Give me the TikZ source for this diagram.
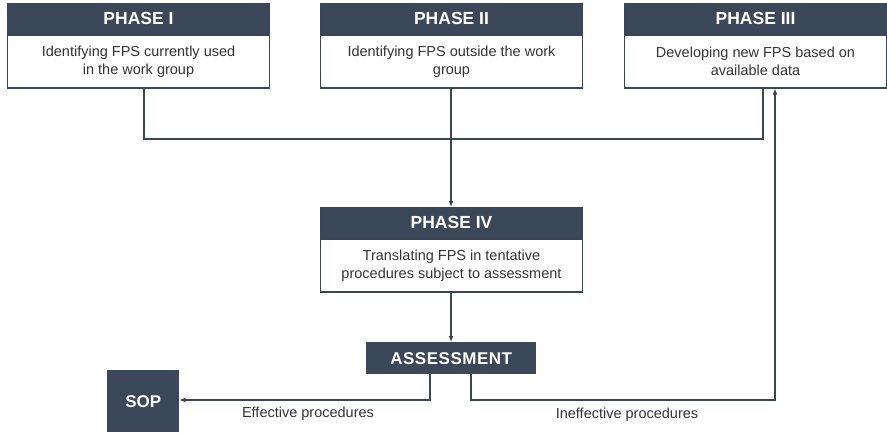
\documentclass[tikz,border=0pt]{standalone}
\usepackage{fontspec}
\setmainfont{Liberation Sans}
\usetikzlibrary{arrows.meta}
\definecolor{hdrcol}{HTML}{3B4859}
\definecolor{linecol}{HTML}{3A4556}
\definecolor{txtcol}{HTML}{333333}
\tikzset{
  hdr/.style={fill=hdrcol, draw=linecol, line width=1pt, text=white, font=\fontsize{17.5}{20}\selectfont\bfseries, minimum width=262pt, minimum height=30pt, inner sep=0pt, anchor=north west},
  bodybox/.style={fill=white, draw=linecol, line width=1.5pt, text=txtcol, font=\fontsize{14.5}{18}\selectfont, align=center, minimum width=262pt, minimum height=53pt, inner sep=0pt, anchor=north},
  conn/.style={draw=linecol, line width=2pt},
  arr/.style={conn, -{Latex[length=6pt,width=5pt]}},
  lbl/.style={text=txtcol, font=\fontsize{14.5}{17}\selectfont, inner sep=0pt},
  darkbox/.style={fill=hdrcol, text=white, font=\fontsize{17}{20}\selectfont\bfseries, inner sep=0pt}
}
\begin{document}
\begin{tikzpicture}[x=1pt, y=-1pt]
\useasboundingbox[fill=white] (0,0) rectangle (887,432);
% Phase I
\node[hdr] (h1) at (7,3) {PHASE I};
\node[bodybox] (b1) at (h1.south) {Identifying FPS currently used\\in the work group};
% Phase II
\node[hdr] (h2) at (320,3) {PHASE II};
\node[bodybox] (b2) at (h2.south) {Identifying FPS outside the work\\group};
% Phase III
\node[hdr] (h3) at (624,3) {PHASE III};
\node[bodybox] (b3) at (h3.south) {Developing new FPS based on\\available data};
% Phase IV
\node[hdr] (h4) at (320,207) {PHASE IV};
\node[bodybox] (b4) at (h4.south) {Translating FPS in tentative\\procedures subject to assessment};
% Assessment
\node[darkbox, minimum width=170pt, minimum height=32pt, anchor=north west] (as) at (366,342) {\addfontfeature{LetterSpace=3}ASSESSMENT};
% SOP
\node[darkbox, minimum width=72pt, minimum height=62pt, anchor=north west] (sop) at (107,370) {SOP};
% connectors
\coordinate (L1) at (144,139);
\coordinate (L3) at (763,139);
\draw[conn] (b1.south -| L1) -- (L1) -- (L3) -- (b3.south -| L3);
\draw[arr] (b2.south -| 451,0) -- (h4.north -| 451,0);
\draw[arr] (b4.south -| 451,0) -- (as.north -| 451,0);
\coordinate (e1) at (430,400);
\draw[arr] (as.south -| e1) -- (e1) -- (sop.east |- e1);
\coordinate (i1) at (471,400);
\coordinate (i2) at (775,400);
\draw[arr] (as.south -| i1) -- (i1) -- (i2) -- (b3.south -| i2);
% labels
\node[lbl] (le) at (308,414) {Effective procedures};
\node[lbl] (li) at (627,415) {Ineffective procedures};
\end{tikzpicture}
\end{document}
